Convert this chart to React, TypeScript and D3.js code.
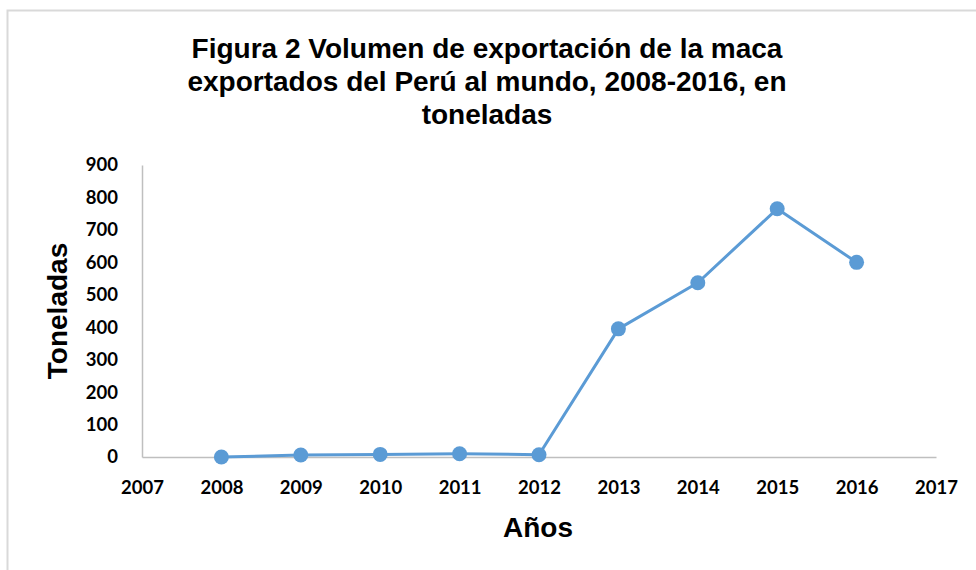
import React, { useRef, useEffect } from 'react';
import * as d3 from 'd3';

// Data
const years = [2008, 2009, 2010, 2011, 2012, 2013, 2014, 2015, 2016];
const toneladas = [0, 6, 8, 10, 7, 395, 537, 765, 600];
const yTicks = [0, 100, 200, 300, 400, 500, 600, 700, 800, 900];
const xTicks = [2007, 2008, 2009, 2010, 2011, 2012, 2013, 2014, 2015, 2016, 2017];
const titleLines = [
  'Figura 2 Volumen de exportación de la maca',
  'exportados del Perú al mundo, 2008-2016, en',
  'toneladas',
];

const App = () => {
  const svgRef = useRef<SVGSVGElement>(null);

  useEffect(() => {
    const width = 976;
    const height = 570;
    const svg = d3.select(svgRef.current);
    svg.selectAll('*').remove();

    const margin = { top: 165, right: 40, bottom: 113, left: 142 };

    const x = d3.scaleLinear()
      .domain([2007, 2017])
      .range([margin.left, width - margin.right - 0]);

    const y = d3.scaleLinear()
      .domain([0, 900])
      .range([height - margin.bottom, margin.top]);

    // Chart border
    svg.append('rect')
      .attr('x', 7.5)
      .attr('y', 10.5)
      .attr('width', width)
      .attr('height', height)
      .attr('fill', '#fff')
      .attr('stroke', '#d9d9d9')
      .attr('stroke-width', 2);

    // Title
    svg.append('g')
      .selectAll('text')
      .data(titleLines)
      .enter()
      .append('text')
      .attr('x', 487)
      .attr('y', (d, i) => 58 + i * 33)
      .attr('text-anchor', 'middle')
      .style('font-family', '"Liberation Sans", Arial, sans-serif')
      .style('font-weight', 'bold')
      .style('font-size', '28px')
      .attr('fill', '#000')
      .text(d => d);

    const tickFont = 'Lato, "Open Sans", sans-serif';

    // Y axis
    const yAxis = svg.append('g')
      .attr('transform', `translate(${margin.left},0)`)
      .call(d3.axisLeft(y).tickValues(yTicks).tickSize(0).tickPadding(24));
    yAxis.select('.domain').attr('stroke', '#bfbfbf').attr('stroke-width', 1.5);
    yAxis.selectAll('text')
      .style('font-family', tickFont)
      .style('font-weight', 'bold')
      .style('font-size', '18.5px')
      .attr('fill', '#000');

    // X axis
    const xAxis = svg.append('g')
      .attr('transform', `translate(0,${y(0)})`)
      .call(d3.axisBottom(x).tickValues(xTicks).tickFormat(d3.format('d')).tickSize(0).tickPadding(24));
    xAxis.select('.domain').attr('stroke', '#bfbfbf').attr('stroke-width', 1.5);
    xAxis.selectAll('text')
      .style('font-family', tickFont)
      .style('font-weight', 'bold')
      .style('font-size', '18.5px')
      .attr('fill', '#000');

    // Axis titles
    svg.append('text')
      .attr('x', 538)
      .attr('y', 537)
      .attr('text-anchor', 'middle')
      .style('font-family', '"Liberation Sans", Arial, sans-serif')
      .style('font-weight', 'bold')
      .style('font-size', '28px')
      .text('Años');

    svg.append('text')
      .attr('transform', `translate(67,311) rotate(-90)`)
      .attr('text-anchor', 'middle')
      .style('font-family', '"Liberation Sans", Arial, sans-serif')
      .style('font-weight', 'bold')
      .style('font-size', '28px')
      .text('Toneladas');

    // Line
    const line = d3.line<number>()
      .x((d, i) => x(years[i]))
      .y(d => y(d));

    svg.append('path')
      .datum(toneladas)
      .attr('d', line)
      .attr('fill', 'none')
      .attr('stroke', '#5b9bd5')
      .attr('stroke-width', 3)
      .attr('stroke-linejoin', 'round');

    // Markers
    svg.append('g')
      .selectAll('circle')
      .data(toneladas)
      .enter()
      .append('circle')
      .attr('cx', (d, i) => x(years[i]))
      .attr('cy', d => y(d))
      .attr('r', 7.5)
      .attr('fill', '#5b9bd5');
  }, []);

  return (
    <svg
      ref={svgRef}
      width={976}
      height={570}
      style={{ position: 'absolute', left: 0, top: 0 }}
    />
  );
};

export default App;
